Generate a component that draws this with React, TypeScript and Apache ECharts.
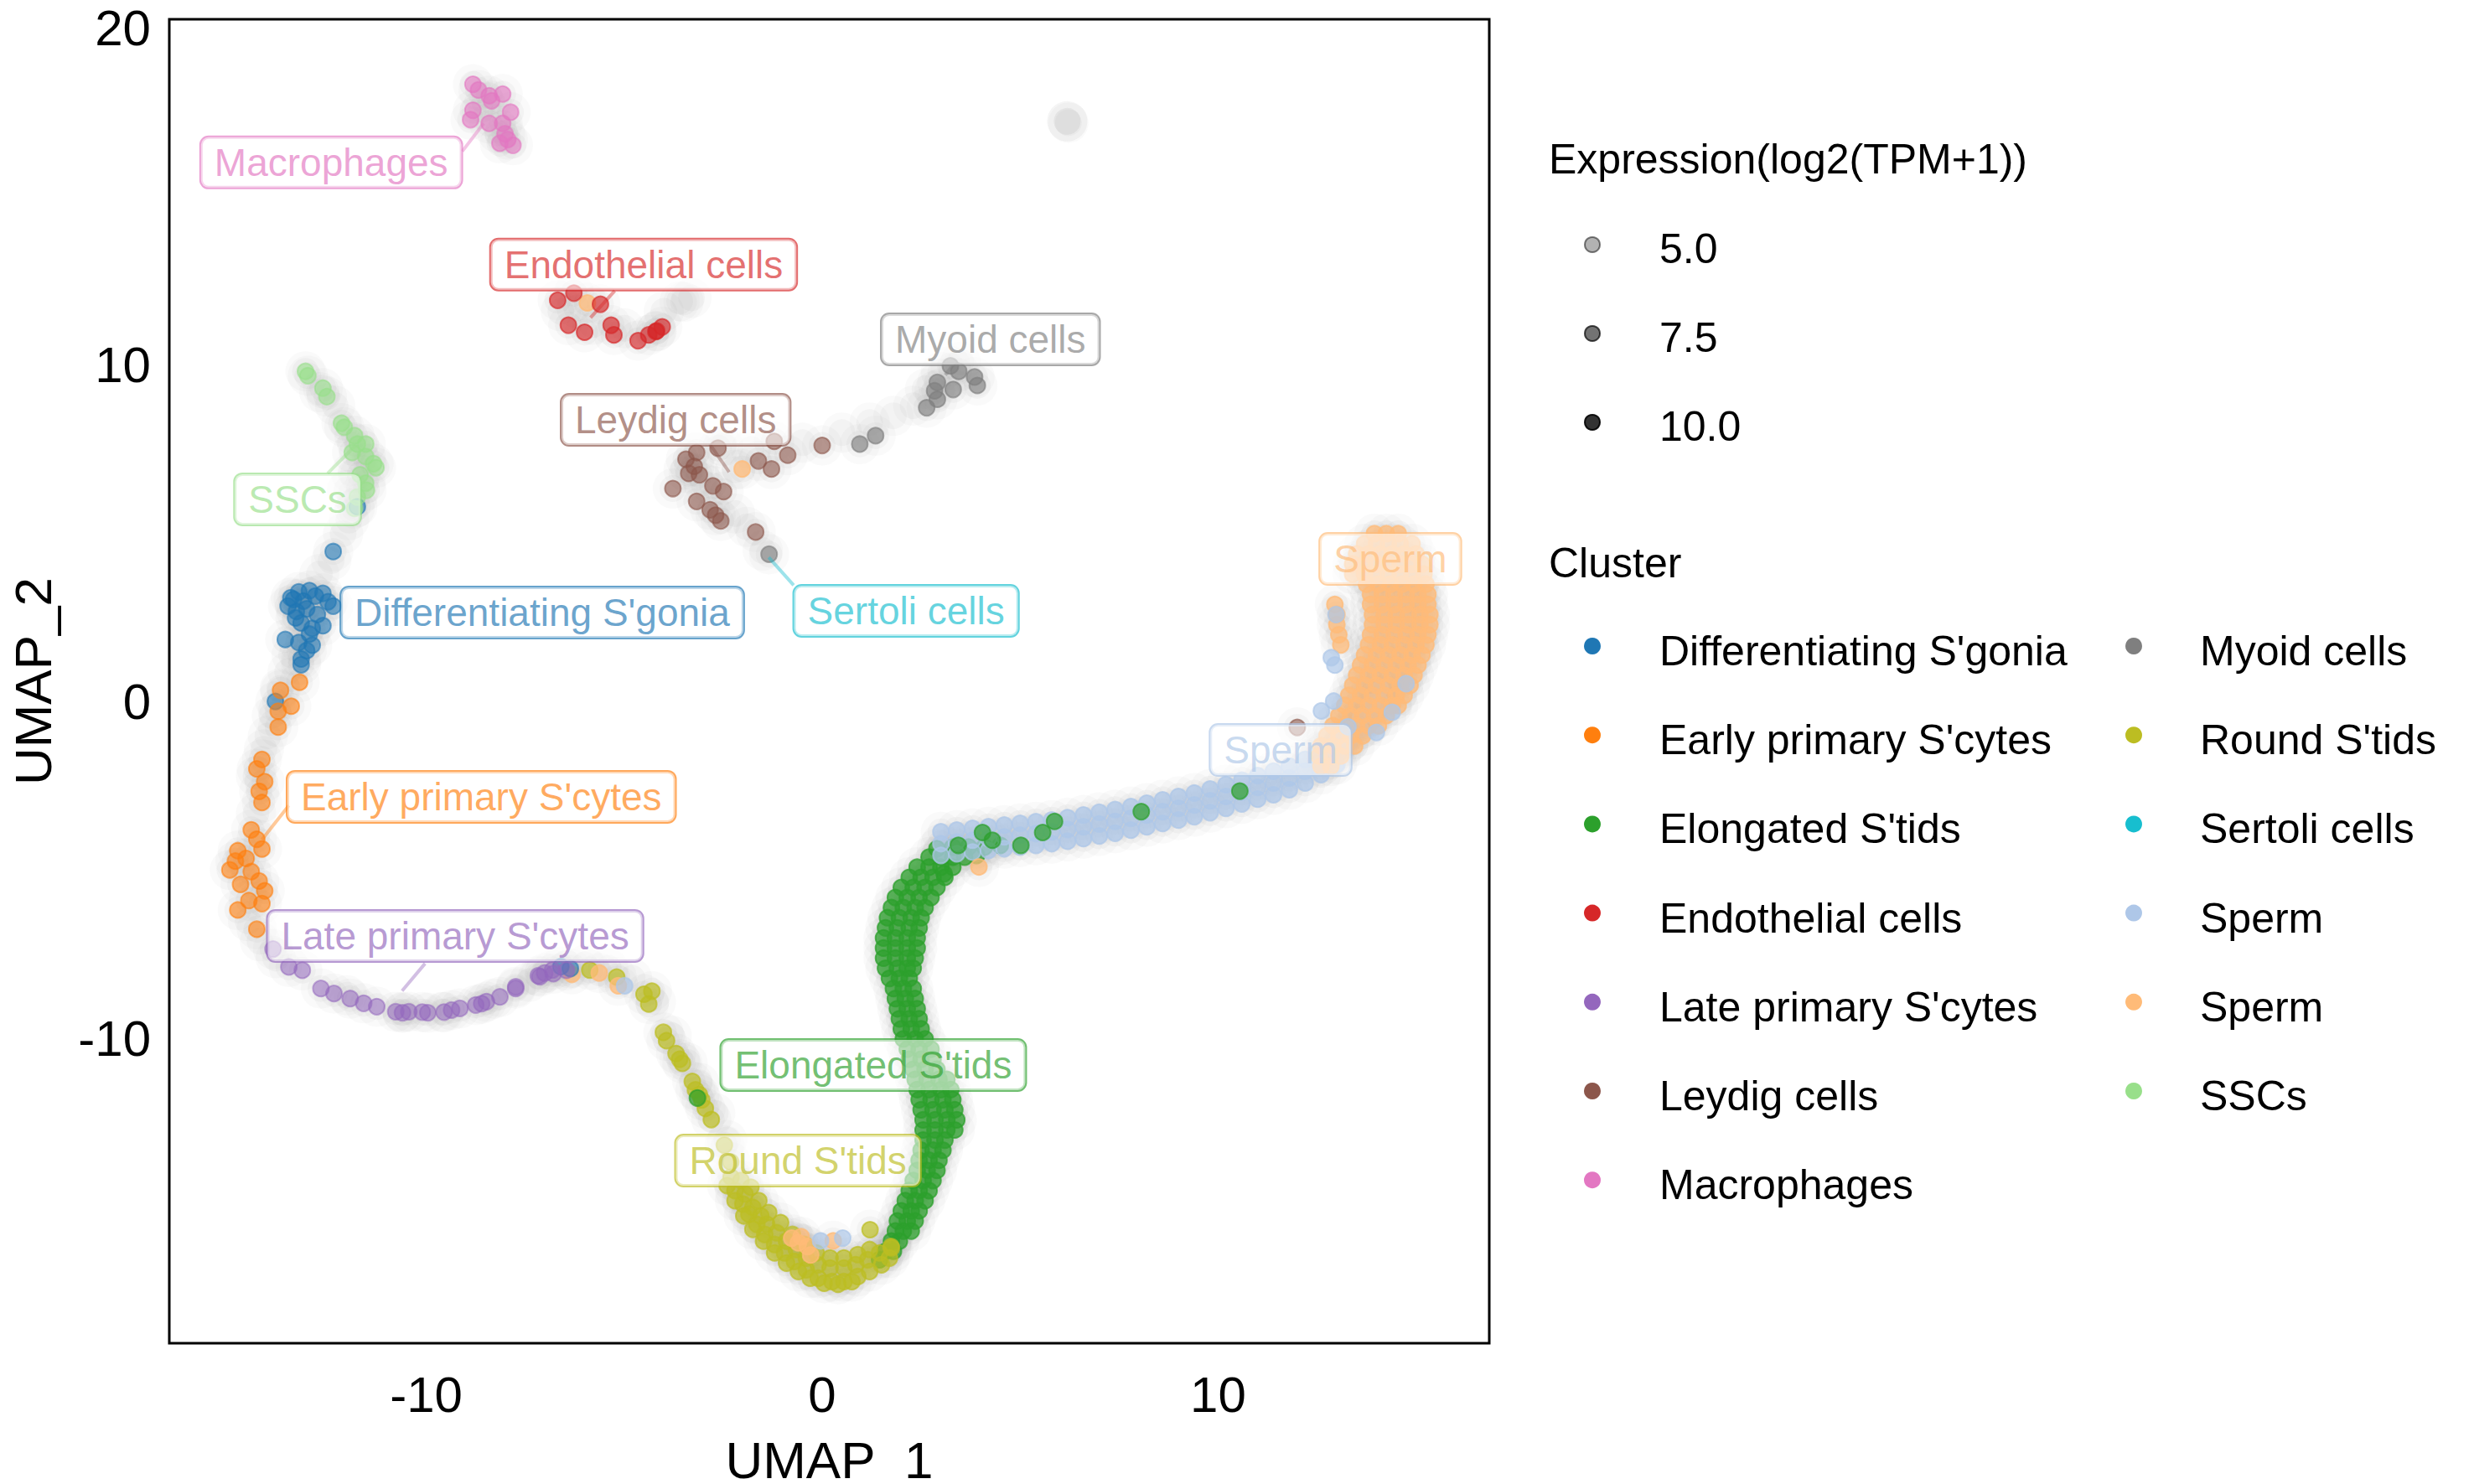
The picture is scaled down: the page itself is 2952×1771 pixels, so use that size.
import { useEffect, useRef } from "react";
import * as echarts from "echarts";

const FONT = "'Liberation Sans', Arial, Helvetica, sans-serif";

// ---------- axes ----------
const xTicks = [-10, 0, 10];
const yTicks = [-10, 0, 10, 20];
const xRange = [-16.49, 16.85];
const yRange = [-19.03, 20.27];

// ---------- clusters ----------
const clusterNames = [
  "Differentiating S'gonia", "Early primary S'cytes", "Elongated S'tids", "Endothelial cells",
  "Late primary S'cytes", "Leydig cells", "Macrophages", "Myoid cells", "Round S'tids",
  "Sertoli cells", "Sperm", "Sperm", "SSCs",
];
const clusterColors = [
  "#1f77b4", "#ff7f0e", "#2ca02c", "#d62728", "#9467bd", "#8c564b", "#e377c2",
  "#7f7f7f", "#bcbd22", "#17becf", "#aec7e8", "#ffbb78", "#98df8a",
];
const sizeLegendLabels = ["5.0", "7.5", "10.0"];

// ---------- cells (UMAP_1, UMAP_2) ----------
const diffSgonia = [
  [-11.74, 5.8], [-12.35, 4.47], [-13.42, 3.1], [-13.22, 3.27], [-12.95, 3.31], [-12.61, 3.23],
  [-12.48, 2.98], [-12.35, 2.85], [-13.49, 2.85], [-13.28, 2.69], [-13.02, 2.77], [-12.75, 2.6],
  [-13.16, 2.35], [-12.88, 2.19], [-12.61, 2.27], [-12.95, 2.02], [-13.22, 1.77], [-13.56, 1.86],
  [-12.88, 1.69], [-13.02, 1.53], [-13.16, 1.28], [-13.16, 1.11], [-13.81, 0.02], [-13.35, 3.05],
  [-13.1, 3.0], [-12.8, 3.15], [-13.3, 2.5], [-6.36, -7.91], [-6.6, -7.85],
];
const earlyScytes = [
  [-13.2, 0.59], [-13.68, 0.35], [-13.41, -0.12], [-13.74, -0.27], [-13.74, -0.74], [-14.15, -1.7],
  [-14.28, -1.98], [-14.08, -2.36], [-14.22, -2.65], [-14.15, -2.98], [-14.42, -3.79], [-14.28, -4.07],
  [-14.15, -4.36], [-14.76, -4.41], [-14.55, -4.64], [-14.96, -4.98], [-14.42, -5.03], [-14.22, -5.31],
  [-14.69, -5.41], [-14.08, -5.6], [-14.48, -5.89], [-14.76, -6.17], [-14.28, -6.74], [-14.15, -5.98],
  [-14.82, -4.72],
];
const lateScytes = [
  [-13.87, -7.33], [-13.47, -7.86], [-13.13, -7.96], [-12.66, -8.5], [-12.33, -8.65], [-11.92, -8.8],
  [-11.58, -8.94], [-11.25, -9.04], [-10.77, -9.19], [-10.44, -9.19], [-9.96, -9.22], [-9.36, -9.14],
  [-9.15, -9.09], [-8.75, -8.99], [-8.48, -8.89], [-8.14, -8.75], [-7.74, -8.45], [-7.13, -8.15],
  [-6.79, -8.06], [-6.46, -7.96], [-7.74, -8.5], [-7.17, -8.12], [-7.01, -8.04], [-6.81, -7.95],
  [-10.1, -9.2], [-10.6, -9.22], [-9.55, -9.2], [-8.6, -8.95],
];
const elongatedStids = [
  [2.9, -4.35], [3.3, -4.3], [3.7, -4.3], [4.1, -4.3], [4.5, -4.25],
  [2.7, -4.6], [3.0, -4.6], [3.3, -4.6], [3.6, -4.6], [3.9, -4.55],
  [2.4, -4.9], [2.7, -4.9], [3.0, -4.9], [3.3, -4.9],
  [2.2, -5.2], [2.5, -5.2], [2.8, -5.2], [3.1, -5.2],
  [2.0, -5.5], [2.3, -5.5], [2.6, -5.5], [2.9, -5.5],
  [1.85, -5.8], [2.15, -5.8], [2.45, -5.8], [2.75, -5.8],
  [1.75, -6.1], [2.05, -6.1], [2.35, -6.1], [2.6, -6.1],
  [1.65, -6.4], [1.95, -6.4], [2.25, -6.4], [2.5, -6.4],
  [1.6, -6.7], [1.9, -6.7], [2.2, -6.7], [2.45, -6.7],
  [1.55, -7.0], [1.85, -7.0], [2.15, -7.0], [2.4, -7.0],
  [1.55, -7.3], [1.85, -7.3], [2.15, -7.3], [2.4, -7.3],
  [1.55, -7.6], [1.85, -7.6], [2.15, -7.6], [2.35, -7.6],
  [1.6, -7.9], [1.9, -7.9], [2.15, -7.9], [2.3, -7.9],
  [1.7, -8.2], [1.95, -8.2], [2.2, -8.2],
  [1.8, -8.5], [2.05, -8.5], [2.3, -8.5],
  [1.85, -8.8], [2.1, -8.8], [2.35, -8.8],
  [1.9, -9.1], [2.15, -9.1], [2.4, -9.1],
  [1.95, -9.4], [2.2, -9.4], [2.45, -9.4],
  [2.0, -9.7], [2.25, -9.7], [2.5, -9.7],
  [2.05, -10.0], [2.35, -10.0], [2.6, -10.0],
  [2.15, -10.3], [2.45, -10.3], [2.75, -10.3],
  [2.2, -10.6], [2.5, -10.6], [2.8, -10.6],
  [2.3, -10.9], [2.6, -10.9], [2.9, -10.9],
  [2.35, -11.2], [2.65, -11.2], [2.95, -11.2], [3.15, -11.2],
  [2.4, -11.5], [2.7, -11.5], [3.0, -11.5], [3.25, -11.5],
  [2.45, -11.8], [2.75, -11.8], [3.05, -11.8], [3.3, -11.8],
  [2.5, -12.1], [2.8, -12.1], [3.1, -12.1], [3.35, -12.1],
  [2.55, -12.4], [2.85, -12.4], [3.15, -12.4], [3.4, -12.4],
  [2.55, -12.7], [2.85, -12.7], [3.15, -12.7], [3.35, -12.7],
  [2.55, -13.0], [2.85, -13.0], [3.1, -13.0],
  [2.5, -13.3], [2.8, -13.3], [3.05, -13.3],
  [2.45, -13.6], [2.7, -13.6], [2.95, -13.6],
  [2.4, -13.9], [2.65, -13.9], [2.9, -13.9],
  [2.3, -14.2], [2.55, -14.2], [2.8, -14.2],
  [2.2, -14.5], [2.45, -14.5], [2.7, -14.5],
  [2.1, -14.8], [2.35, -14.8], [2.6, -14.8],
  [2.0, -15.1], [2.25, -15.1], [2.45, -15.1],
  [1.9, -15.4], [2.15, -15.4], [2.35, -15.4],
  [1.85, -15.7], [2.05, -15.7], [2.25, -15.7],
  [1.75, -16.0], [1.95, -16.0],
  [1.6, -16.3], [1.8, -16.3],
  [1.45, -16.55],
];
const elongatedSpecks = [
  [3.44, -4.25], [4.05, -3.87], [3.08, -5.09], [5.02, -4.25], [5.57, -3.87], [5.87, -3.54],
  [8.06, -3.25], [10.55, -2.64], [4.3, -4.1], [-3.15, -11.75],
];
const endothelial = [
  [-6.68, 11.93], [-6.27, 12.14], [-5.6, 11.81], [-6.41, 11.19], [-6.0, 10.98], [-5.33, 11.19],
  [-5.26, 10.9], [-4.65, 10.73], [-4.38, 10.9], [-4.18, 11.02], [-4.04, 11.14], [-4.2, 11.0],
];
const leydig = [
  [-3.17, 7.41], [-3.44, 7.21], [-2.63, 7.54], [-3.23, 7.0], [-3.37, 6.79], [-3.1, 6.75],
  [-3.77, 6.34], [-2.76, 6.42], [-2.49, 6.25], [-3.17, 5.96], [-2.83, 5.71], [-2.69, 5.55],
  [-2.56, 5.38], [-1.61, 7.16], [-1.28, 6.92], [-0.87, 7.33], [0.0, 7.62], [-1.21, 7.74],
  [-1.68, 5.05], [12.0, -0.75],
];
const macrophages = [
  [-8.82, 18.34], [-8.68, 18.17], [-8.41, 18.0], [-8.07, 18.05], [-8.82, 17.57], [-8.88, 17.29],
  [-8.41, 17.18], [-8.07, 17.18], [-7.87, 17.51], [-8.01, 16.87], [-8.14, 16.59], [-7.81, 16.53],
  [-7.94, 16.7], [-8.35, 17.85],
];
const myoid = [
  [3.24, 9.98], [3.45, 9.82], [2.91, 9.49], [2.84, 9.24], [3.31, 9.28], [3.85, 9.65],
  [3.92, 9.4], [2.91, 8.99], [2.64, 8.74], [1.35, 7.91], [0.95, 7.66], [-1.34, 4.39],
];
const roundStids = [
  [-5.87, -7.95], [-5.19, -8.16], [-4.5, -8.67], [-4.3, -8.58], [-4.38, -8.96], [-4.01, -9.8],
  [-3.93, -10.05], [-3.69, -10.43], [-3.53, -10.72], [-3.28, -11.26], [-3.2, -11.51], [-3.04, -11.81],
  [-2.95, -12.06], [-2.8, -12.39], [-2.47, -13.15], [-2.31, -13.65], [-3.1, -11.65], [-3.6, -10.6],
  [-2.3, -14.1], [-2.05, -14.2], [-2.2, -14.5], [-1.95, -14.6], [-2.0, -14.9], [-1.75, -15.0],
  [-1.85, -15.2], [-1.55, -15.25], [-1.65, -15.5], [-1.4, -15.5], [-1.45, -15.8], [-1.15, -15.75],
  [-1.2, -16.1], [-0.9, -16.0], [-0.95, -16.35], [-0.65, -16.25], [-0.7, -16.6], [-0.4, -16.5],
  [-0.4, -16.85], [-0.1, -16.7], [-0.1, -17.1], [0.2, -16.8], [0.25, -17.2], [0.55, -16.8],
  [0.55, -17.2], [0.85, -16.7], [0.9, -17.05], [1.15, -16.55], [1.2, -16.9], [1.45, -16.35],
  [1.5, -16.7], [1.75, -16.2], [1.7, -16.5], [1.21, -15.66], [1.74, -16.16],
  [-2.4, -14.35], [-2.2, -14.8], [-1.98, -15.25], [-1.75, -15.65], [-1.48, -16.0], [-1.2, -16.35],
  [-0.9, -16.65], [-0.6, -16.9], [-0.3, -17.1], [0.05, -17.25], [0.4, -17.28], [0.75, -17.2],
  [-1.8, -14.4], [-1.6, -14.8], [-1.35, -15.15], [-1.05, -15.45], [-0.75, -15.8], [-0.45, -16.1],
  [-0.15, -16.35], [0.2, -16.5], [0.55, -16.5], [0.9, -16.4], [1.2, -16.25],
];
const spermBlue = [
  [3.0, -4.55], [3.0, -4.2], [3.0, -3.85], [3.4, -4.5], [3.4, -4.15], [3.4, -3.8],
  [3.8, -4.45], [3.8, -4.1], [3.8, -3.75], [4.2, -4.4], [4.2, -4.05], [4.2, -3.7],
  [4.6, -4.35], [4.6, -4.0], [4.6, -3.65], [5.0, -4.3], [5.0, -3.95], [5.0, -3.6],
  [5.4, -4.25], [5.4, -3.9], [5.4, -3.55], [5.8, -4.2], [5.8, -3.85], [5.8, -3.5],
  [6.2, -4.13], [6.2, -3.78], [6.2, -3.43], [6.6, -4.05], [6.6, -3.7], [6.6, -3.35],
  [7.0, -3.97], [7.0, -3.62], [7.0, -3.27], [7.4, -3.89], [7.4, -3.54], [7.4, -3.19],
  [7.8, -3.8], [7.8, -3.45], [7.8, -3.1], [8.2, -3.7], [8.2, -3.35], [8.2, -3.0],
  [8.6, -3.6], [8.6, -3.25], [8.6, -2.9], [9.0, -3.5], [9.0, -3.15], [9.0, -2.8],
  [9.4, -3.4], [9.4, -3.05], [9.4, -2.7], [9.8, -3.28], [9.8, -2.93], [9.8, -2.58],
  [10.2, -3.15], [10.2, -2.8], [10.2, -2.45], [10.6, -3.02], [10.6, -2.67], [10.6, -2.32],
  [11.0, -2.88], [11.0, -2.53], [11.0, -2.18], [11.4, -2.75], [11.4, -2.4], [11.4, -2.05],
  [11.8, -2.6], [11.8, -2.25], [11.8, -1.9], [12.2, -2.4], [12.2, -2.05], [12.2, -1.7],
  [12.6, -2.15], [12.6, -1.8], [12.6, -1.45], [13.0, -1.85], [13.0, -1.5], [13.0, -1.15],
  [13.3, -1.2], [13.3, -0.85], [13.6, -0.8], [13.6, -0.45], [13.9, -0.4], [13.9, 0.0],
  [14.1, 0.0], [14.1, 0.4],
];
const spermBlueScattered = [
  [12.98, 2.6], [12.86, 1.32], [12.92, 0.03], [12.61, -0.26], [13.28, -0.73], [12.95, 1.1],
  [14.75, 0.55], [14.4, -0.3], [14.0, -0.9], [-0.04, -15.99], [0.52, -15.91], [-4.99, -8.42],
];
const spermOrange = [
  [13.95, 5.0], [14.25, 5.0], [14.55, 5.0],
  [13.7, 4.7], [14.0, 4.7], [14.3, 4.7], [14.6, 4.7], [14.9, 4.7],
  [13.5, 4.4], [13.8, 4.4], [14.1, 4.4], [14.4, 4.4], [14.7, 4.4], [15.0, 4.4],
  [13.4, 4.1], [13.7, 4.1], [14.0, 4.1], [14.3, 4.1], [14.6, 4.1], [14.9, 4.1], [15.15, 4.1],
  [13.4, 3.8], [13.7, 3.8], [14.0, 3.8], [14.3, 3.8], [14.6, 3.8], [14.9, 3.8], [15.2, 3.8],
  [13.75, 3.5], [14.05, 3.5], [14.35, 3.5], [14.65, 3.5], [14.95, 3.5], [15.25, 3.5],
  [13.85, 3.2], [14.15, 3.2], [14.45, 3.2], [14.75, 3.2], [15.05, 3.2], [15.3, 3.2],
  [12.95, 2.9], [13.85, 2.9], [14.15, 2.9], [14.45, 2.9], [14.75, 2.9], [15.05, 2.9], [15.3, 2.9],
  [13.0, 2.6], [13.9, 2.6], [14.2, 2.6], [14.5, 2.6], [14.8, 2.6], [15.1, 2.6], [15.35, 2.6],
  [13.0, 2.3], [13.9, 2.3], [14.2, 2.3], [14.5, 2.3], [14.8, 2.3], [15.1, 2.3], [15.35, 2.3],
  [13.05, 2.0], [13.85, 2.0], [14.15, 2.0], [14.45, 2.0], [14.75, 2.0], [15.05, 2.0], [15.3, 2.0],
  [13.1, 1.7], [13.8, 1.7], [14.1, 1.7], [14.4, 1.7], [14.7, 1.7], [15.0, 1.7], [15.25, 1.7],
  [13.7, 1.4], [14.0, 1.4], [14.3, 1.4], [14.6, 1.4], [14.9, 1.4], [15.15, 1.4],
  [13.6, 1.1], [13.9, 1.1], [14.2, 1.1], [14.5, 1.1], [14.8, 1.1], [15.05, 1.1],
  [13.5, 0.8], [13.8, 0.8], [14.1, 0.8], [14.4, 0.8], [14.7, 0.8], [14.95, 0.8],
  [13.4, 0.5], [13.7, 0.5], [14.0, 0.5], [14.3, 0.5], [14.6, 0.5], [14.85, 0.5],
  [13.3, 0.2], [13.6, 0.2], [13.9, 0.2], [14.2, 0.2], [14.5, 0.2], [14.7, 0.2],
  [13.2, -0.1], [13.5, -0.1], [13.8, -0.1], [14.1, -0.1], [14.4, -0.1], [14.55, -0.1],
  [13.05, -0.4], [13.35, -0.4], [13.65, -0.4], [13.95, -0.4], [14.25, -0.4],
  [12.9, -0.7], [13.2, -0.7], [13.5, -0.7], [13.8, -0.7], [14.05, -0.7],
  [12.75, -1.0], [13.05, -1.0], [13.35, -1.0], [13.65, -1.0],
  [12.6, -1.3], [12.9, -1.3], [13.2, -1.3], [13.45, -1.3],
  [12.55, -1.6], [12.85, -1.6], [13.1, -1.6],
  [12.6, -1.9], [12.85, -1.9],
  [-5.93, 11.85], [-2.02, 6.92], [3.96, -4.89], [-6.32, -8.08], [-5.63, -8.04], [-5.15, -8.42],
  [-0.77, -15.91], [-0.53, -15.87], [-0.37, -16.16], [-0.29, -16.41], [0.28, -15.99], [-0.6, -16.05],
];
const sscs = [
  [-13.05, 9.82], [-12.99, 9.69], [-12.61, 9.32], [-12.51, 9.07], [-12.14, 8.28], [-12.07, 8.16],
  [-11.81, 7.91], [-11.74, 7.66], [-11.53, 7.66], [-11.87, 7.41], [-11.53, 7.29], [-11.33, 7.08],
  [-11.27, 6.96], [-11.67, 6.75], [-11.53, 6.5], [-11.51, 6.29], [-11.74, 6.09], [-11.81, 5.75],
];
// cells with low expression: only visible as the grey background
const backgroundCells = [
  [-12.3, 8.8], [-12.7, 9.2], [-11.9, 6.8], [-12.0, 6.3], [-11.95, 5.4], [-12.1, 5.0], [-12.4, 4.2],
  [-12.7, 3.8], [-13.4, 1.4], [-13.5, 0.9], [-13.7, 0.4], [-13.9, -0.4], [-14.0, -1.0], [-14.1, -1.4],
  [-14.3, -2.2], [-14.3, -3.3], [-14.5, -6.5], [-14.2, -7.1], [-13.8, -7.6], [-12.0, -8.7],
  [-10.6, -9.2], [-9.6, -9.2], [-8.3, -8.8], [-7.4, -8.3], [-6.0, -7.8], [-5.4, -7.9], [-4.8, -8.2],
  [-4.2, -8.9], [-3.8, -9.9], [-3.4, -10.7], [-3.1, -11.3], [-2.7, -12.2], [-2.4, -13.0],
  [-0.5, 7.7], [0.5, 8.0], [1.2, 8.3], [1.8, 8.5], [2.3, 8.8], [2.6, 9.3], [3.0, 9.8], [3.5, 10.1],
  [-3.5, 6.9], [-3.0, 6.5], [-2.2, 6.9], [-1.8, 7.5], [-2.5, 7.6], [-2.2, 5.6], [-1.9, 5.2],
  [-1.5, 4.5], [-6.6, 11.6], [-5.8, 11.2], [-5.0, 11.1], [-4.0, 11.6], [-3.6, 11.9], [-3.3, 12.0],
  [-3.5, 11.88], [-6.2, 11.7], [-8.6, 17.6], [-8.2, 16.9], [6.19, 17.24], [6.19, 17.24], [6.22, 17.2],
];

// ---------- cluster labels ----------
const labelTexts = [
  "Macrophages", "Endothelial cells", "Myoid cells", "Leydig cells", "SSCs", "Differentiating S'gonia",
  "Sertoli cells", "Sperm", "Sperm", "Early primary S'cytes", "Late primary S'cytes", "Elongated S'tids",
  "Round S'tids",
];
const labelCluster = [6, 3, 7, 5, 12, 0, 9, 11, 10, 1, 4, 2, 8];
const labelX = [-12.4, -4.51, 4.25, -3.7, -13.25, -7.07, 2.12, 14.35, 11.58, -8.61, -9.27, 1.29, -0.61];
const labelY = [16.02, 12.99, 10.77, 8.38, 6.02, 2.66, 2.71, 4.25, -1.42, -2.81, -6.94, -10.77, -13.61];
// leader segments: x1, y1, x2, y2, cluster index
const leaderLines = [
  [-9.09, 16.35, -8.55, 17.18, 6],
  [-5.24, 12.21, -5.85, 11.41, 3],
  [3.3, 10.0, 3.11, 9.71, 7],
  [-2.84, 7.66, -2.35, 6.83, 5],
  [-12.49, 6.79, -11.75, 7.66, 12],
  [-0.72, 3.47, -1.35, 4.3, 9],
  [-13.47, -3.07, -14.15, -4.08, 1],
  [-10.03, -7.76, -10.61, -8.57, 4],
];

function rgba(hex: string, a: number) {
  const n = parseInt(hex.slice(1), 16);
  return `rgba(${(n >> 16) & 255},${(n >> 8) & 255},${n & 255},${a})`;
}

export default function App() {
  const ref = useRef<HTMLDivElement>(null);
  useEffect(() => {
    if (!ref.current) return;
    const chart = echarts.init(ref.current, null, { renderer: "svg" });

    const pts = (data: number[][], ci: number, opacity = 0.62) => ({
      type: "scatter",
      data,
      symbol: "circle",
      symbolSize: 19,
      silent: true,
      z: 3,
      itemStyle: { color: clusterColors[ci], opacity, borderColor: clusterColors[ci], borderWidth: 2 },
    });

    const allCells = [
      ...backgroundCells, ...diffSgonia, ...earlyScytes, ...lateScytes, ...elongatedStids, ...endothelial,
      ...leydig, ...macrophages, ...myoid, ...roundStids, ...spermBlue, ...spermOrange, ...sscs,
    ];

    const series: any[] = [
      { type: "scatter", data: allCells, symbolSize: 48, silent: true, z: 1, itemStyle: { color: "#9a9a9a", opacity: 0.05 } },
      { type: "scatter", data: allCells, symbolSize: 32, silent: true, z: 1, itemStyle: { color: "#9a9a9a", opacity: 0.07 } },
      pts(elongatedStids, 2, 0.75),
      pts(roundStids, 8, 0.7),
      pts(spermBlue, 10, 0.75),
      pts(elongatedSpecks, 2, 0.7),
      pts(spermOrange, 11, 0.75),
      pts(spermBlueScattered, 10, 0.7),
      pts(diffSgonia, 0, 0.6),
      pts(earlyScytes, 1, 0.6),
      pts(lateScytes, 4, 0.55),
      pts(endothelial, 3, 0.65),
      pts(leydig, 5, 0.6),
      pts(macrophages, 6, 0.6),
      pts(myoid, 7, 0.65),
      pts(sscs, 12, 0.6),
      {
        type: "lines",
        coordinateSystem: "cartesian2d",
        silent: true,
        z: 5,
        lineStyle: { width: 4 },
        data: leaderLines.map((l) => ({
          coords: [[l[0], l[1]], [l[2], l[3]]],
          lineStyle: { color: rgba(clusterColors[l[4]], 0.85), width: 4 },
        })),
      },
      {
        type: "scatter",
        silent: true,
        z: 10,
        symbolSize: 1,
        itemStyle: { color: "rgba(0,0,0,0)" },
        data: labelTexts.map((t, i) => ({
          name: t,
          value: [labelX[i], labelY[i]],
          label: {
            show: true,
            position: "inside",
            formatter: t,
            fontFamily: FONT,
            fontSize: 46,
            lineHeight: 46,
            color: rgba(clusterColors[labelCluster[i]], 0.85),
            backgroundColor: "rgba(255,255,255,0.7)",
            borderColor: rgba(clusterColors[labelCluster[i]], 0.85),
            borderWidth: 2,
            borderRadius: 9,
            padding: [7, 16, 7, 16],
          },
        })),
      },
    ];

    // legend drawn with graphic elements
    const graphic: any[] = [];
    const lx = 1848;
    graphic.push({ type: "text", x: lx, y: 190, style: { text: "Expression(log2(TPM+1))", font: `50px ${FONT}`, fill: "#000", verticalAlign: "middle" } });
    const sizeFill = ["rgba(0,0,0,0.3)", "rgba(0,0,0,0.55)", "rgba(0,0,0,0.8)"];
    const sizeStroke = ["rgba(0,0,0,0.5)", "rgba(0,0,0,0.7)", "rgba(0,0,0,0.9)"];
    sizeLegendLabels.forEach((s, i) => {
      const cy = 292 + i * 106;
      graphic.push({ type: "circle", shape: { cx: 1900, cy, r: 9 }, style: { fill: sizeFill[i], stroke: sizeStroke[i], lineWidth: 2 } });
      graphic.push({ type: "text", x: 1980, y: cy + 5, style: { text: s, font: `50px ${FONT}`, fill: "#000", verticalAlign: "middle" } });
    });
    graphic.push({ type: "text", x: lx, y: 672, style: { text: "Cluster", font: `50px ${FONT}`, fill: "#000", verticalAlign: "middle" } });
    clusterNames.forEach((n, i) => {
      const col = i < 7 ? 0 : 1;
      const row = i < 7 ? i : i - 7;
      const cy = 771 + row * 106.2;
      const dx = col === 0 ? 1900 : 2546;
      const tx = col === 0 ? 1980 : 2625;
      graphic.push({ type: "circle", shape: { cx: dx, cy, r: 10 }, style: { fill: clusterColors[i] } });
      graphic.push({ type: "text", x: tx, y: cy + 6, style: { text: n, font: `50px ${FONT}`, fill: "#000", verticalAlign: "middle" } });
    });

    chart.setOption({
      animation: false,
      backgroundColor: "#ffffff",
      grid: {
        left: 202, top: 23, width: 1575, height: 1580, show: true, borderColor: "#000", borderWidth: 3,
        backgroundColor: "transparent", containLabel: false, outerBoundsMode: "none",
      },
      xAxis: {
        type: "value",
        min: xRange[0],
        max: xRange[1],
        name: "UMAP_1",
        nameLocation: "middle",
        nameGap: 108,
        nameTextStyle: { fontFamily: FONT, fontSize: 62, color: "#000" },
        axisLine: { show: false },
        axisTick: { show: false },
        splitLine: { show: false },
        axisLabel: { customValues: xTicks, fontFamily: FONT, fontSize: 60, color: "#000", margin: 31 },
      },
      yAxis: {
        type: "value",
        min: yRange[0],
        max: yRange[1],
        name: "UMAP_2",
        nameLocation: "middle",
        nameGap: 132,
        nameRotate: 90,
        nameTextStyle: { fontFamily: FONT, fontSize: 62, color: "#000" },
        axisLine: { show: false },
        axisTick: { show: false },
        splitLine: { show: false },
        axisLabel: { customValues: yTicks, fontFamily: FONT, fontSize: 60, color: "#000", margin: 22 },
      },
      series,
      graphic,
    });
    return () => chart.dispose();
  }, []);
  return <div ref={ref} style={{ position: "fixed", left: 0, top: 0, width: 2952, height: 1771, background: "#fff" }} />;
}
